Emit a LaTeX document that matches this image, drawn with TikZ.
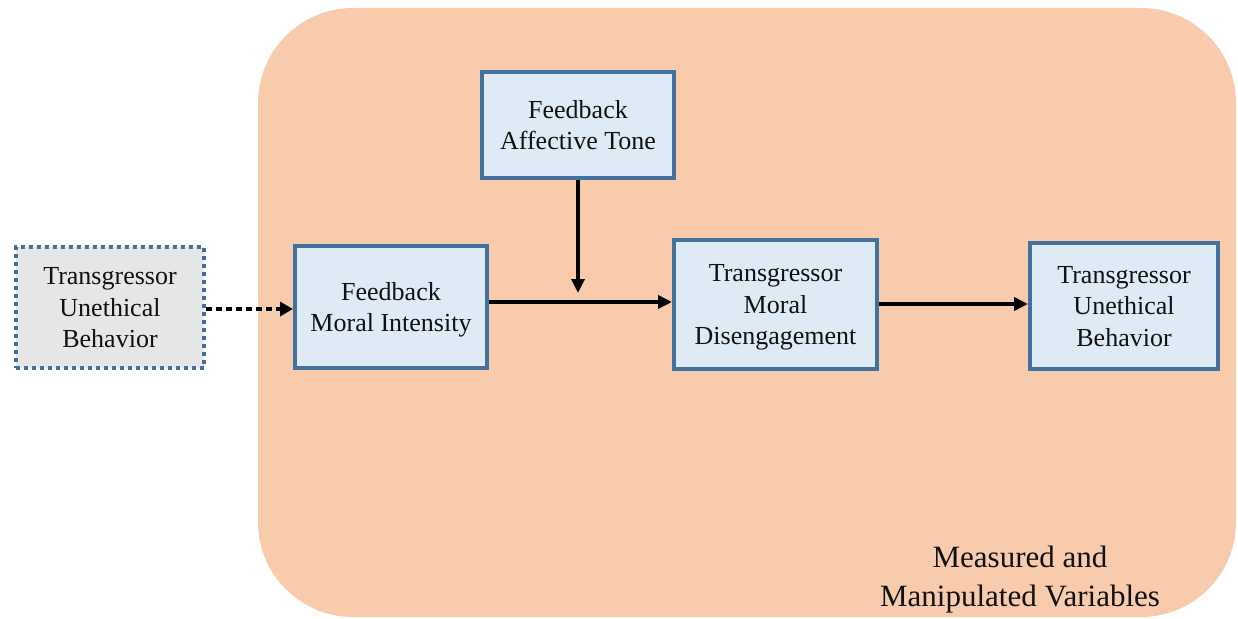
\documentclass[tikz,border=0pt]{standalone}
\usepackage{fontspec}
\setmainfont{Liberation Serif}
\usetikzlibrary{arrows.meta}
\definecolor{orangebg}{HTML}{F8CBAD}
\definecolor{boxfill}{HTML}{DEEBF7}
\definecolor{boxline}{HTML}{41719C}
\definecolor{grayfill}{HTML}{E7E6E6}
\definecolor{txt}{HTML}{111111}
\tikzset{
  varbox/.style={draw=boxline, fill=boxfill, line width=4pt, align=center, text=txt,
    font=\fontsize{26}{31.5}\selectfont, inner sep=0pt, text depth=0pt},
  dotbox/.style={draw=boxline, fill=grayfill, line width=4pt, dash pattern=on 4pt off 4pt,
    align=center, text=txt, font=\fontsize{26}{31.5}\selectfont, inner sep=0pt, text depth=0pt},
  conn/.style={line width=3.5pt, -{Triangle[length=14pt,width=13pt]}},
}
\begin{document}
\begin{tikzpicture}[x=1pt,y=-1pt]
\useasboundingbox (0,0) rectangle (1238,618);
\fill[orangebg, rounded corners=95pt] (258,8) rectangle (1236,617);
\node[dotbox, text depth=-5pt, minimum width=188pt, minimum height=121pt] (src) at (110,307.5)
  {Transgressor\\Unethical\\Behavior};
\node[varbox, minimum width=192pt, minimum height=122pt] (fmi) at (391,307)
  {Feedback\\Moral Intensity};
\node[varbox, minimum width=192pt, minimum height=106pt] (fat) at (578,125)
  {Feedback\\Affective Tone};
\node[varbox, minimum width=203pt, minimum height=129pt] (tmd) at (775.5,304.5)
  {Transgressor\\Moral\\Disengagement};
\node[varbox, text depth=-6pt, minimum width=188pt, minimum height=126pt] (tub) at (1124,306)
  {Transgressor\\Unethical\\Behavior};
\node[align=center, text=txt, font=\fontsize{31}{39}\selectfont] (lbl) at (1020,580)
  {Measured and\\Manipulated Variables};
\coordinate (mod) at (578,293);
\draw[line width=4.5pt, dash pattern=on 6pt off 4pt, -{Triangle[length=13pt,width=14pt]}]
  (src.east |- 0,309) -- (fmi.west |- 0,309);
\draw[conn] (fmi.east |- 0,302) -- (tmd.west |- 0,302);
\draw[conn] (fat.south) -- (mod);
\draw[conn] (tmd.east |- 0,304) -- (tub.west |- 0,304);
\end{tikzpicture}
\end{document}
